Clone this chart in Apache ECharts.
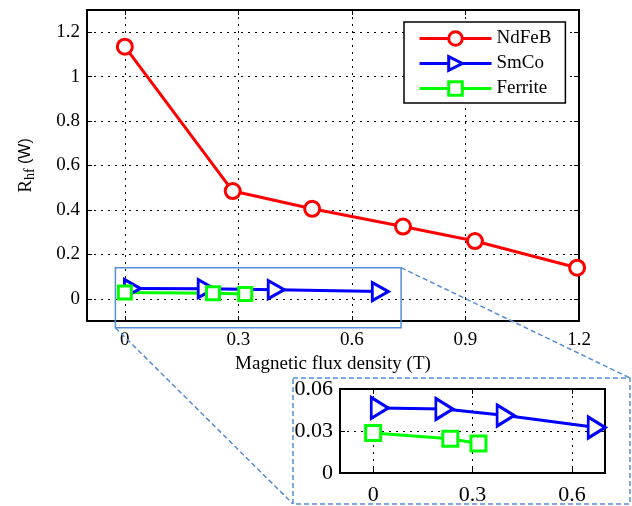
<!DOCTYPE html>
<html>
<head>
<meta charset="utf-8">
<script src="https://cdn.jsdelivr.net/npm/echarts@6/dist/echarts.min.js"></script>
<style>
  html, body { margin: 0; padding: 0; background: #fff; }
  #chart { width: 632px; height: 506px; }
</style>
</head>
<body>
<div id="chart"></div>
<script>
// Hysteresis resistance vs. flux density for three magnet materials
const seriesNames = ['NdFeB', 'SmCo', 'Ferrite'];

const ndfebB = [0, 0.285, 0.495, 0.735, 0.925, 1.195];
const ndfebR = [1.135, 0.485, 0.405, 0.325, 0.26, 0.14];

const smcoB = [0.02, 0.215, 0.4, 0.675];
const smcoR = [0.0465, 0.0457, 0.041, 0.0325];

const ferriteB = [0, 0.233, 0.318];
const ferriteR = [0.0286, 0.0245, 0.0211];

const mainXTicks = [0, 0.3, 0.6, 0.9, 1.2];
const mainYTicks = [0, 0.2, 0.4, 0.6, 0.8, 1, 1.2];
const insetXTicks = [0, 0.3, 0.6];
const insetYTicks = [0, 0.03, 0.06];

// region of the main axes that is magnified in the inset
const zoomB = [-0.025, 0.73];
const zoomR = [-0.13, 0.14];

const SERIF = '"Liberation Serif", "Times New Roman", serif';
const RED = '#ff0000', BLUE = '#0000ff', GREEN = '#00ff00';
const FRAME = '#558ed5';
const TRI = 'path://M0,0L10,5L0,10Z';

const zip = (xs, ys) => xs.map((x, i) => [x, ys[i]]);

function axis(o) {
  const labels = o.labels !== false;
  return {
    type: 'value',
    gridIndex: o.grid,
    position: o.position,
    min: o.min, max: o.max,
    axisLine: { show: true, onZero: false, lineStyle: { color: '#000', width: 2 } },
    axisTick: { show: true, inside: true, length: 5, customValues: o.ticks,
                lineStyle: { color: '#000', width: 1 } },
    axisLabel: { show: labels, customValues: o.ticks, margin: o.margin || 8,
                 fontFamily: SERIF, fontSize: o.fontSize || 19, color: '#000' },
    splitLine: { show: !!o.split, lineStyle: { color: '#000', width: 1, type: [2, 5] } },
    name: o.name, nameLocation: 'middle', nameGap: o.nameGap,
    nameRotate: o.nameRotate, nameTextStyle: o.nameTextStyle
  };
}

function lineSeries(name, data, color, symbol, size, xi, yi) {
  return {
    name, type: 'line', data, xAxisIndex: xi, yAxisIndex: yi,
    symbol, symbolSize: size, showAllSymbol: true, clip: false,
    lineStyle: { color, width: 3 },
    itemStyle: { color: '#fff', borderColor: color, borderWidth: 3 },
    emphasis: { disabled: true },
    z: 3
  };
}

const chart = echarts.init(document.getElementById('chart'), null, { renderer: 'canvas' });

chart.setOption({
  animation: false,
  backgroundColor: '#fff',
  grid: [
    { left: 87, top: 10, width: 492, height: 311, show: true, borderColor: '#000', borderWidth: 2 },
    { left: 340, top: 389, width: 265, height: 88, show: true, borderColor: '#000', borderWidth: 2,
      backgroundColor: '#fff' }
  ],
  xAxis: [
    axis({ grid: 0, position: 'bottom', min: -0.1, max: 1.2, ticks: mainXTicks, split: true,
           margin: 10, name: 'Magnetic flux density (T)', nameGap: 33,
           nameTextStyle: { fontFamily: SERIF, fontSize: 19, color: '#000' } }),
    axis({ grid: 0, position: 'top', min: -0.1, max: 1.2, ticks: mainXTicks, labels: false }),
    axis({ grid: 1, position: 'bottom', min: -0.1, max: 0.7, ticks: insetXTicks, split: true,
           margin: 11, fontSize: 22 }),
    axis({ grid: 1, position: 'top', min: -0.1, max: 0.7, ticks: insetXTicks, labels: false })
  ],
  yAxis: [
    axis({ grid: 0, position: 'left', min: -0.1, max: 1.3, ticks: mainYTicks, split: true,
           margin: 7, name: '{r|R}{s|hf}{w| (W)}', nameGap: 50, nameRotate: 90,
           nameTextStyle: { rich: {
             r: { fontFamily: SERIF, fontSize: 19, color: '#000', lineHeight: 22, verticalAlign: 'middle' },
             s: { fontFamily: SERIF, fontSize: 14, color: '#000', lineHeight: 10, verticalAlign: 'bottom' },
             w: { fontFamily: '"Liberation Sans", Arial, sans-serif', fontSize: 16, color: '#000',
                  lineHeight: 22, verticalAlign: 'middle' }
           } } }),
    axis({ grid: 0, position: 'right', min: -0.1, max: 1.3, ticks: mainYTicks, labels: false }),
    axis({ grid: 1, position: 'left', min: 0, max: 0.06, ticks: insetYTicks, split: true,
           margin: 7, fontSize: 22 }),
    axis({ grid: 1, position: 'right', min: 0, max: 0.06, ticks: insetYTicks, labels: false })
  ],
  legend: {
    data: seriesNames,
    orient: 'vertical',
    left: 404, top: 22,
    itemWidth: 72, itemHeight: 17, itemGap: 6,
    padding: [7, 14, 5, 14],
    borderColor: '#000', borderWidth: 1.5, backgroundColor: '#fff',
    lineStyle: { width: 3 },
    itemStyle: { borderWidth: 3 },
    textStyle: { fontFamily: SERIF, fontSize: 19, color: '#000' },
    selectedMode: false
  },
  series: [
    lineSeries('NdFeB', zip(ndfebB, ndfebR), RED, 'circle', 15, 0, 0),
    lineSeries('SmCo', zip(smcoB, smcoR), BLUE, TRI, [16, 18], 0, 0),
    lineSeries('Ferrite', zip(ferriteB, ferriteR), GREEN, 'rect', 13, 0, 0),
    lineSeries('SmCo', zip(smcoB, smcoR), BLUE, TRI, [17, 21], 2, 2),
    lineSeries('Ferrite', zip(ferriteB, ferriteR), GREEN, 'rect', 15, 2, 2)
  ]
});

// zoom rectangle on the main axes, the inset frame and the two connectors
const tl = chart.convertToPixel({ xAxisIndex: 0, yAxisIndex: 0 }, [zoomB[0], zoomR[1]]);
const br = chart.convertToPixel({ xAxisIndex: 0, yAxisIndex: 0 }, [zoomB[1], zoomR[0]]);
const frame = { x: 293, y: 378, w: 337, h: 126 };
const dash = { stroke: FRAME, lineWidth: 1.5, lineDash: [5, 3], fill: null };

chart.setOption({
  graphic: [
    { type: 'rect', z: 10, silent: true,
      shape: { x: tl[0], y: tl[1], width: br[0] - tl[0], height: br[1] - tl[1] },
      style: { stroke: FRAME, lineWidth: 1.5, fill: null } },
    { type: 'rect', z: 0, silent: true,
      shape: { x: frame.x, y: frame.y, width: frame.w, height: frame.h },
      style: dash },
    { type: 'line', z: 10, silent: true,
      shape: { x1: tl[0], y1: br[1], x2: frame.x, y2: frame.y + frame.h }, style: dash },
    { type: 'line', z: 10, silent: true,
      shape: { x1: br[0], y1: tl[1], x2: frame.x + frame.w, y2: frame.y }, style: dash }
  ]
});
</script>
</body>
</html>
